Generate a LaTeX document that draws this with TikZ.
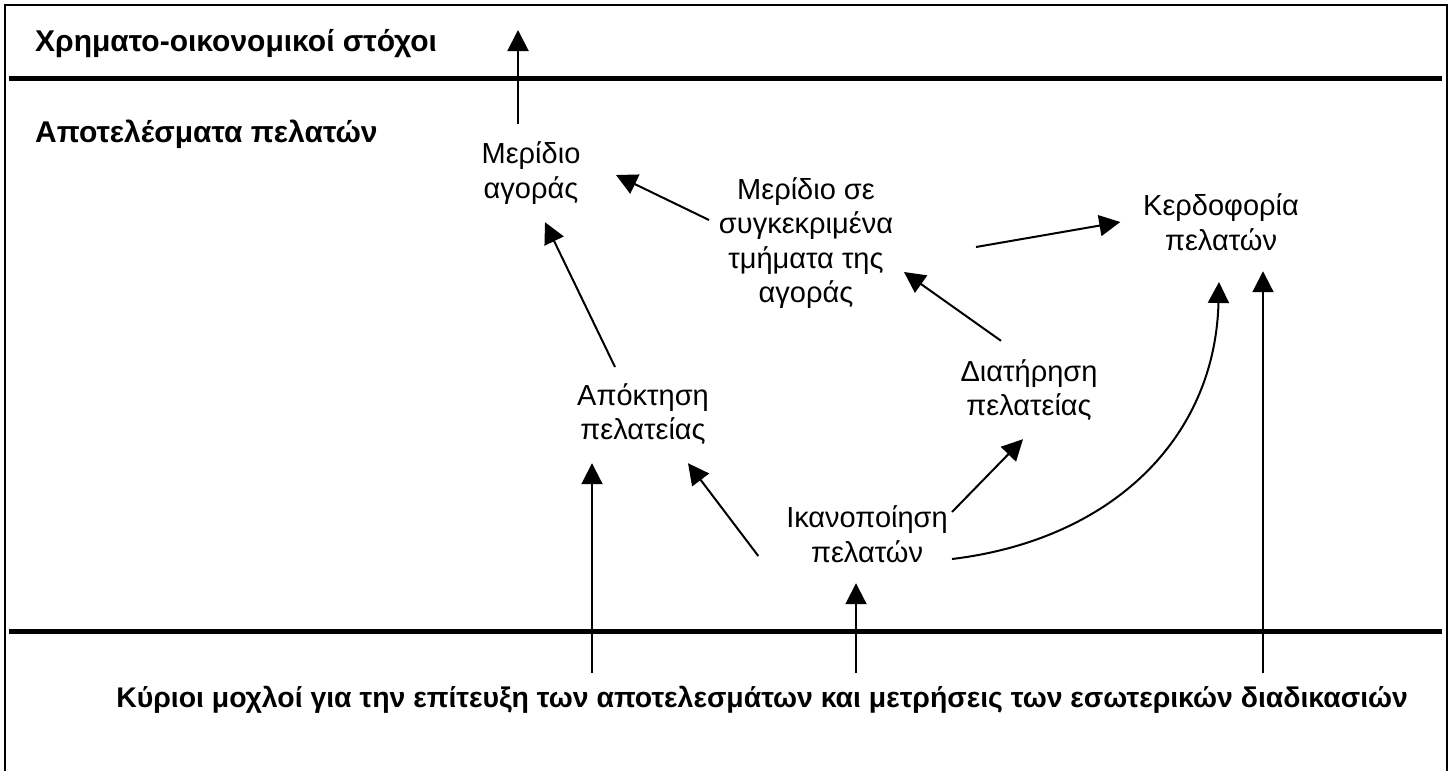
\documentclass[tikz,border=0pt]{standalone}
\usepackage{fontspec}
\setmainfont{Liberation Sans}
\usetikzlibrary{arrows.meta}
\begin{document}
\begin{tikzpicture}[x=1pt,y=-1pt,
  lbl/.style={font=\fontsize{29}{34.5}\selectfont, align=center, fill=white,
              inner sep=0pt, minimum width=205, minimum height=98},
  head/.style={font=\bfseries\fontsize{30}{34}\selectfont, inner sep=0pt},
  arr/.style={line width=2pt, -{Triangle[length=21pt,width=21pt]}},
  sep/.style={line width=5pt},
  frame/.style={line width=2pt}]
\useasboundingbox (0,0) rectangle (1453,771);
\fill[white] (0,0) rectangle (1453,771);

% outer frame and the two band separators
\draw[frame] (5,771) -- (5,5) -- (1447,5) -- (1447,771);
\draw[sep] (9,78) -- (1442,78);
\draw[sep] (9,631) -- (1442,631);

% band titles
\node[head, anchor=base west] (fin) at (35,51) {Χρηματο-οικονομικοί στόχοι};
\node[head, anchor=base west] (cust) at (35,142) {Αποτελέσματα πελατών};
\node[head, font=\bfseries\fontsize{28.4}{32}\selectfont, anchor=base] (drv) at (762,707)
  {Κύριοι μοχλοί για την επίτευξη των αποτελεσμάτων και μετρήσεις των εσωτερικών διαδικασιών};

% customer outcome measures
\node[lbl] (ma) at (531,173) {Μερίδιο\\αγοράς};
\node[lbl] (ms) at (806,243) {Μερίδιο σε\\συγκεκριμένα\\τμήματα της\\αγοράς};
\node[lbl, minimum width=201] (kp) at (1221,222) {Κερδοφορία\\πελατών};
\node[lbl, minimum width=202] (dp) at (1029,390) {Διατήρηση\\πελατείας};
\node[lbl] (ap) at (643,414) {Απόκτηση\\πελατείας};
\node[lbl, minimum width=217] (ik) at (867,534) {Ικανοποίηση\\πελατών};

% free ends of the vertical links
\coordinate (top) at (518,30);
\coordinate (b1) at (592,673);
\coordinate (b2) at (856,673);
\coordinate (b3) at (1263,673);

% links between measures
\draw[arr] ([xshift=-13]ma.north) -- (top);
\draw[arr] ([shift={(-97,-23)}]ms.center) -- ([shift={(85,2)}]ma.center);
\draw[arr] ([shift={(-28,-47)}]ap.center) -- ([xshift=14]ma.south);
\draw[arr] ([xshift=-28]dp.north) -- ([shift={(98,29)}]ms.center);
\draw[arr] ([shift={(170,4)}]ms.center) -- (kp.west);
\draw[arr] ([yshift=-22]ik.west) -- ([xshift=45]ap.south);
\draw[arr] ([shift={(85,-22)}]ik.center) -- ([xshift=-6]dp.south);
\draw[arr] ([shift={(85,25)}]ik.center) .. controls +(158,-19) and +(-4,158) .. ([shift={(-2,60)}]kp.center);

% drivers feeding the outcomes
\draw[arr] (b1) -- (b1 |- ap.south);
\draw[arr] (b2) -- (b2 |- ik.south);
\draw[arr] (b3) -- (b3 |- kp.south);
\end{tikzpicture}
\end{document}
